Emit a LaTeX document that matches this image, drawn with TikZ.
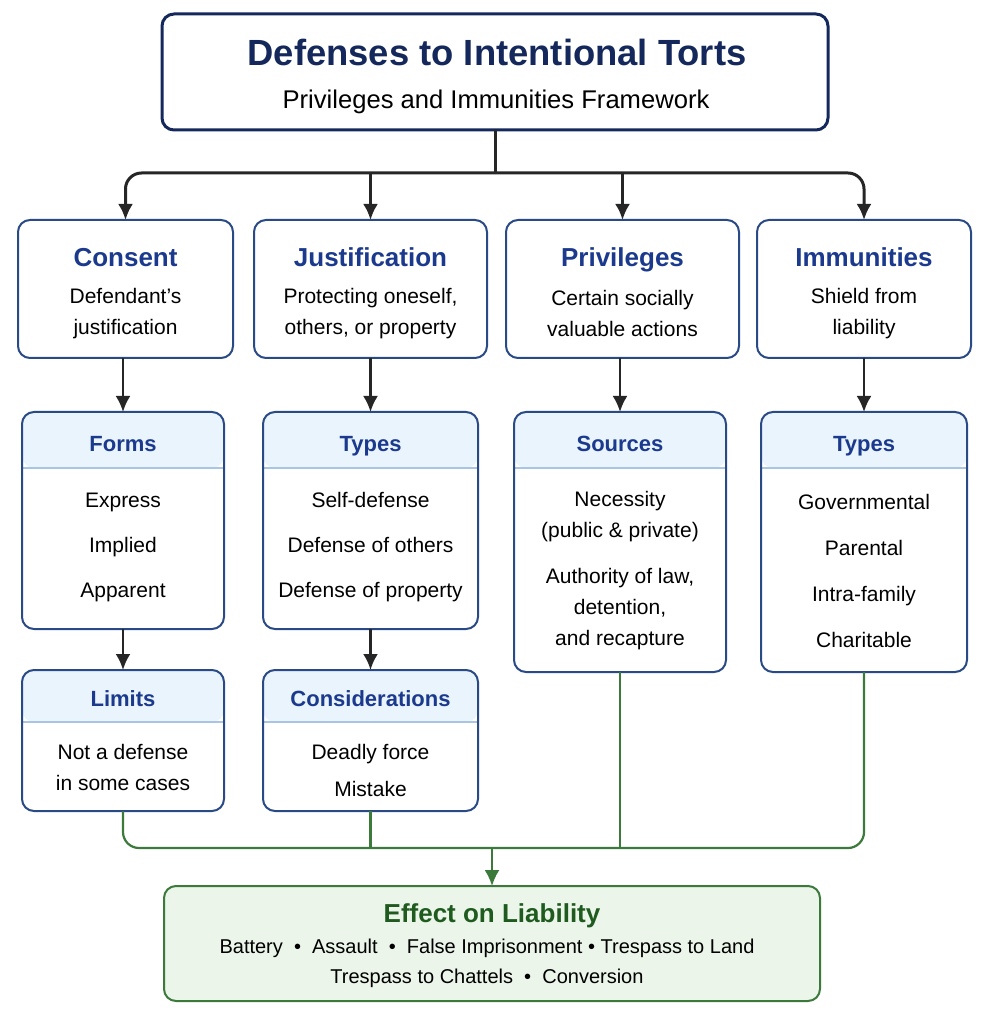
\documentclass[tikz,border=0pt]{standalone}
\usepackage{fontspec}
\setmainfont{Liberation Sans}
\usetikzlibrary{arrows.meta,positioning}

\definecolor{navy}{HTML}{14285C}
\definecolor{boxblue}{HTML}{2A4A86}
\definecolor{hdblue}{HTML}{1B3A8E}
\definecolor{hdrfill}{HTML}{EAF4FD}
\definecolor{divblue}{HTML}{A9C5E2}
\definecolor{gline}{HTML}{3C7A3C}
\definecolor{gfill}{HTML}{EBF5E9}
\definecolor{gtext}{HTML}{1F5A1F}

\begin{document}
\begin{tikzpicture}[x=0.5pt,y=-0.5pt,
  topbox/.style={draw=navy, line width=1.5pt, fill=white, rounded corners=6pt, outer sep=0pt},
  catbox/.style={draw=boxblue, line width=1pt, fill=white, rounded corners=6pt, outer sep=0pt},
  subbox/.style={catbox, path picture={
      \fill[hdrfill] (path picture bounding box.north west) rectangle ([yshift=-#1]path picture bounding box.north east);
      \draw[divblue, line width=0.8pt] ([yshift=-#1]path picture bounding box.north west) -- ([yshift=-#1]path picture bounding box.north east);}},
  oneline/.style={text height=#1, text depth=0pt},
  cathead/.style={oneline=9.3pt, font=\bfseries\fontsize{13}{15}\selectfont, text=hdblue},
  subhead/.style={oneline=7.9pt, font=\bfseries\fontsize{11}{13}\selectfont, text=hdblue},
  desc/.style={font=\fontsize{10.5}{15.5}\selectfont, align=center},
  arr/.style={-{Latex[length=8pt,width=7.5pt]}, line width=1.3pt, draw=black!85},
  garr/.style={-{Latex[length=8pt,width=7.5pt]}, line width=1.1pt, draw=gline}]

\useasboundingbox (0,0) rectangle (990,1020);

% title
\node[topbox, minimum width=333pt, minimum height=58pt] (title) at (495,72) {};
\node[oneline=13pt, font=\bfseries\fontsize{18.2}{20}\selectfont, text=navy] (titlet) at (497,53) {Defenses to Intentional Torts};
\node[oneline=9.2pt, font=\fontsize{12.8}{15}\selectfont] (titles) at (496,99) {Privileges and Immunities Framework};

% first row
\node[catbox, minimum width=107.5pt, minimum height=69pt] (consent) at (125.5,289) {};
\node[cathead] (consenth) at (125.5,257) {Consent};
\node[desc] (consentd) at (125.5,314) {Defendant’s\\justification};

\node[catbox, minimum width=116.5pt, minimum height=69pt] (just) at (370.5,289) {};
\node[cathead] (justh) at (370.5,257) {Justification};
\node[desc] (justd) at (370.5,314) {Protecting oneself,\\others, or property};

\node[catbox, minimum width=116.5pt, minimum height=69pt] (priv) at (622.5,289) {};
\node[cathead] (privh) at (622.5,257) {Privileges};
\node[desc] (privd) at (622.5,313) {Certain socially\\valuable actions};

\node[catbox, minimum width=107pt, minimum height=69pt] (immun) at (864,289) {};
\node[cathead] (immunh) at (864,257) {Immunities};
\node[desc] (immund) at (864,314) {Shield from\\liability};

% second row
\node[subbox=28pt, minimum width=101pt, minimum height=108.5pt] (forms) at (123,520.5) {};
\node[subhead] (formsh) at (123,444) {Forms};
\node[desc, font=\fontsize{10.5}{22.5}\selectfont] (formsi) at (123,547) {Express\\Implied\\Apparent};

\node[subbox=28pt, minimum width=107.5pt, minimum height=108.5pt] (types) at (370.5,520.5) {};
\node[subhead] (typesh) at (370.5,444) {Types};
\node[desc, font=\fontsize{10.5}{22.5}\selectfont] (typesi) at (370.5,547) {Self-defense\\Defense of others\\Defense of property};

\node[subbox=28pt, minimum width=106pt, minimum height=130pt] (sources) at (620,542) {};
\node[subhead] (sourcesh) at (620,444) {Sources};
\node[desc] (sourcesi) at (620,571) {Necessity\\(public \& private)\\[7.5pt]Authority of law,\\detention,\\and recapture};

\node[subbox=28pt, minimum width=103pt, minimum height=130pt] (itypes) at (864,542) {};
\node[subhead] (itypesh) at (864,444) {Types};
\node[desc, font=\fontsize{10.5}{23}\selectfont] (itypesi) at (864,571) {Governmental\\Parental\\Intra-family\\Charitable};

% third row
\node[subbox=26pt, minimum width=101pt, minimum height=70.5pt] (limits) at (123,740.5) {};
\node[subhead] (limitsh) at (123,699) {Limits};
\node[desc] (limitsi) at (123,767) {Not a defense\\in some cases};

\node[subbox=26pt, minimum width=107.5pt, minimum height=70.5pt] (consid) at (370.5,740.5) {};
\node[subhead] (considh) at (370.5,699) {Considerations};
\node[desc, font=\fontsize{10.5}{18.5}\selectfont] (considi) at (370.5,770) {Deadly force\\Mistake};

% effect
\node[draw=gline, line width=1pt, fill=gfill, rounded corners=6pt, outer sep=0pt, minimum width=328pt, minimum height=57.5pt] (effect) at (492,943.5) {};
\node[oneline=9.3pt, font=\bfseries\fontsize{13}{15}\selectfont, text=gtext] (effecth) at (492,913) {Effect on Liability};
\node[desc, font=\fontsize{10}{15}\selectfont] (effecti) at (487,963) {Battery~~•~~Assault~~•~~False Imprisonment~•~Trespass to Land\\Trespass to Chattels~~•~~Conversion};

% top connectors
\coordinate (bus) at (495,173);
\draw[line width=1.5pt, black!85] (title.south) -- (bus);
\draw[arr, line width=1.5pt, rounded corners=8pt] (bus) -| (consent.north);
\draw[arr, line width=1.5pt, rounded corners=8pt] (bus) -| (immun.north);
\draw[arr, line width=1.5pt] (bus -| just.north) -- (just.north);
\draw[arr, line width=1.5pt] (bus -| priv.north) -- (priv.north);

% down arrows
\draw[arr] (forms.north |- consent.south) -- (forms.north);
\draw[arr] (types.north |- just.south) -- (types.north);
\draw[arr] (sources.north |- priv.south) -- (sources.north);
\draw[arr] (itypes.north |- immun.south) -- (itypes.north);
\draw[arr] (forms.south) -- (limits.north);
\draw[arr] (types.south) -- (consid.north);

% green collector
\coordinate (gbus) at (492,848);
\draw[gline, line width=1.1pt, rounded corners=8pt] (limits.south) |- (gbus) -| (itypes.south);
\draw[gline, line width=1.1pt] (consid.south) -- (consid.south |- gbus);
\draw[gline, line width=1.1pt] (sources.south) -- (sources.south |- gbus);
\draw[garr] (gbus) -- (effect.north);
\end{tikzpicture}
\end{document}
